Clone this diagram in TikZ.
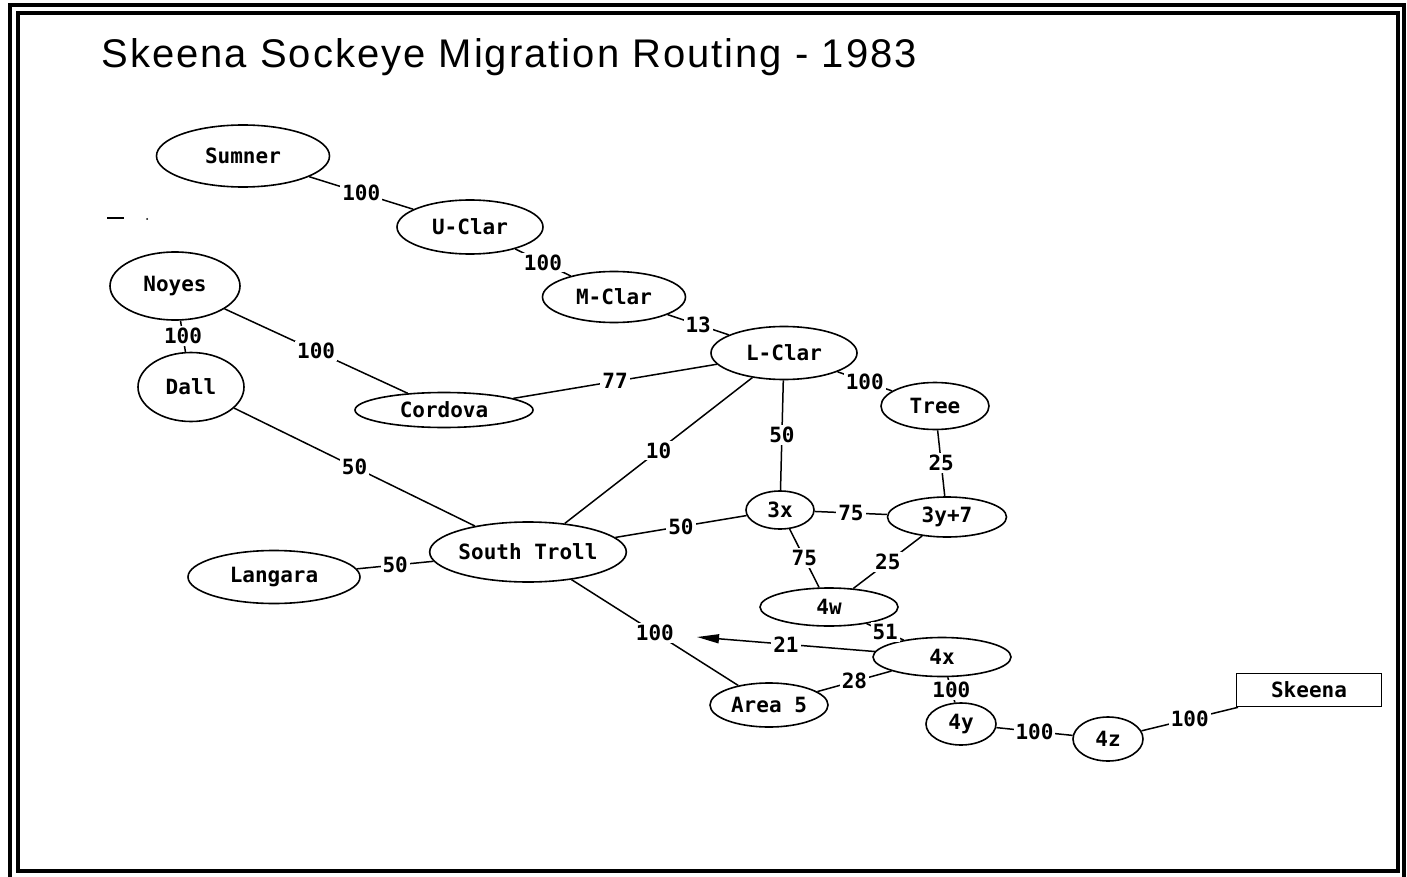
\documentclass[tikz,border=0pt]{standalone}
\usepackage{fontspec}
\usepackage{tikz}
\usetikzlibrary{arrows.meta,shapes.geometric,positioning}
\newfontfamily\titlefam[LetterSpace=5]{Liberation Sans}
\newfontfamily\monofam{DejaVu Sans Mono}
\newcommand{\sitefont}{\fontsize{21}{24}\selectfont\monofam\bfseries}
\tikzset{%
	site/.style    = {draw, ellipse, line width=1.6pt, inner sep=0pt, font=\sitefont}, % river site
	outlet/.style  = {draw, rectangle, line width=1.6pt, inner sep=0pt, font=\sitefont}, % end box
	link/.style    = {line width=1.5pt}, % route
	wt/.style      = {fill=white, inner sep=2pt, font=\sitefont}, % percent
}

\begin{document}
\begin{tikzpicture}[x=1pt,y=-1pt]
	\useasboundingbox (0,0) rectangle (1407,877);
	\draw[line width=3.5pt] (10,5) rectangle (1404,890);
	\draw[line width=4pt] (18,13) rectangle (1398,871);
	\node[anchor=base west,font=\titlefam\fontsize{40}{46}\selectfont] (title) at (98,68) {Skeena Sockeye Migration Routing - 1983};
	\draw[line width=1.5pt] (107,218) -- (124,218);
	\fill (147,219) circle (1pt);

	\node [site,minimum width=173pt,minimum height=62pt] (sumner) at (243,156) {Sumner};
	\node [site,minimum width=146pt,minimum height=54pt] (uclar) at (470,227) {U-Clar};
	\node [site,minimum width=143pt,minimum height=51pt] (mclar) at (614,297) {M-Clar};
	\node [site,minimum width=146pt,minimum height=53pt] (lclar) at (784,353) {L-Clar};
	\node [site,minimum width=130pt,minimum height=68pt] (noyes) at (175,286) {Noyes};
	\node [site,minimum width=106pt,minimum height=69pt] (dall) at (191,387) {Dall};
	\node [site,minimum width=178pt,minimum height=35pt] (cordova) at (444,410) {Cordova};
	\node [site,minimum width=108pt,minimum height=47pt] (tree) at (935,406) {Tree};
	\node [site,minimum width=68pt,minimum height=38pt] (x3) at (780,510) {3x};
	\node [site,minimum width=119pt,minimum height=40pt] (y3) at (947,517) {3y+7};
	\node [site,minimum width=190pt,minimum height=60pt] (troll) at (528,552) {South Troll};
	\node [site,minimum width=172pt,minimum height=53pt] (langara) at (274,577) {Langara};
	\node [site,minimum width=138pt,minimum height=38pt] (w4) at (829,607) {4w};
	\node [site,minimum width=138pt,minimum height=39pt] (x4) at (942,657) {4x};
	\node [site,minimum width=118pt,minimum height=44pt] (area) at (769,705) {Area 5};
	\node [site,minimum width=70pt,minimum height=42pt] (y4) at (961,724) {4y};
	\node [site,minimum width=70pt,minimum height=44pt] (z4) at (1108,739) {4z};
	\node [outlet,minimum width=145pt,minimum height=33pt] (skeena) at (1309,690) {Skeena};
	\coordinate (tip) at (697,637);

	\draw [link] (sumner) -- node[wt] {100} (uclar);
	\draw [link] (uclar) -- node[wt] {100} (mclar);
	\draw [link] (mclar) -- node[wt] {13} (lclar);
	\draw [link] (noyes) -- node[wt] {100} (dall);
	\draw [link] (noyes) -- node[wt] {100} (cordova);
	\draw [link] (cordova) -- node[wt] {77} (lclar);
	\draw [link] (dall) -- node[wt] {50} (troll);
	\draw [link] (lclar) -- node[wt] {10} (troll);
	\draw [link] (lclar) -- node[wt] {50} (x3);
	\draw [link] (lclar) -- node[wt] {100} (tree);
	\draw [link] (tree) -- node[wt] {25} (y3);
	\draw [link] (x3) -- node[wt] {75} (y3);
	\draw [link] (x3) -- node[wt] {50} (troll);
	\draw [link] (langara) -- node[wt] {50} (troll);
	\draw [link] (x3) -- node[wt] {75} (w4);
	\draw [link] (y3) -- node[wt] {25} (w4);
	\draw [link] (troll) -- node[wt] {100} (area);
	\draw [link] (w4) -- node[wt] {51} (x4);
	\draw [link,-{Triangle[length=22pt,width=9pt]}] (x4) -- node[wt] {21} (tip);
	\draw [link] (x4) -- node[wt] {28} (area);
	\draw [link] (x4) -- node[wt] {100} (y4);
	\draw [link] (y4) -- node[wt] {100} (z4);
	\draw [link] (z4) -- node[wt] {100} (skeena);
\end{tikzpicture}
\end{document}
